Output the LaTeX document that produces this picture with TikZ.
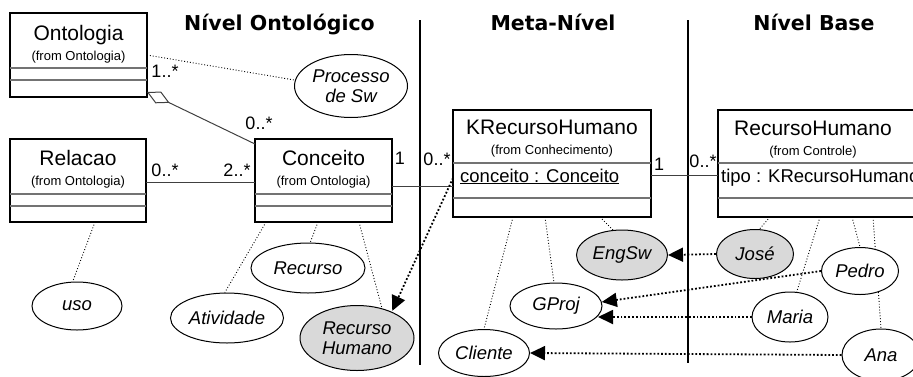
\documentclass[tikz,border=0pt]{standalone}
\usepackage{fontspec}
\setmainfont{Liberation Sans}
\newfontfamily\titlefont{DejaVu Sans}
\usetikzlibrary{arrows.meta,shapes.geometric,calc,backgrounds}
\begin{document}
\begin{tikzpicture}[x=1pt,y=-1pt,
  classbox/.style={draw=black,line width=1.4pt,fill=white,rectangle,inner sep=0pt,outer sep=0pt},
  comp/.style={draw=black!55,line width=1.2pt},
  cname/.style={font=\fontsize{21}{24}\selectfont,anchor=base,inner sep=0pt},
  cfrom/.style={font=\fontsize{13}{15}\selectfont,anchor=base,inner sep=0pt},
  cattr/.style={font=\fontsize{18.5}{21}\selectfont,anchor=base west,inner sep=0pt},
  mult/.style={font=\fontsize{18}{20}\selectfont,inner sep=0pt},
  ttl/.style={font=\titlefont\bfseries\fontsize{20.5}{24}\selectfont,anchor=base,inner sep=0pt},
  obj/.style={ellipse,draw=black,line width=1pt,fill=white,inner sep=0pt,
              font=\fontsize{18.5}{20}\selectfont\itshape,align=center},
  objg/.style={obj,fill=black!15},
  inst/.style={draw=black,line width=0.9pt,dotted},
  assoc/.style={draw=black!75,line width=1pt},
  instarrow/.style={draw=black,line width=1.8pt,dotted,-{Triangle[length=15pt,width=14pt]}},
  sep/.style={draw=black,line width=2pt}
]
\useasboundingbox (0,0) rectangle (913,376);
\clip (0,0) rectangle (913,376);

% titles
\node[ttl] (t1) at (279.5,30) {Nível Ontológico};
\node[ttl] (t2) at (553,30) {Meta-Nível};
\node[ttl] (t3) at (814,30) {Nível Base};

% separators
\coordinate (s1a) at (420,20); \coordinate (s1b) at (420,365);
\coordinate (s2a) at (688,20); \coordinate (s2b) at (688,363);
\draw[sep] (s1a) -- (s1b);
\draw[sep] (s2a) -- (s2b);

% class boxes
\node[classbox,minimum width=137pt,minimum height=84pt] (onto) at (78.5,55) {};
\draw[comp] ([yshift=-55pt]onto.north west) -- ([yshift=-55pt]onto.north east);
\draw[comp] ([yshift=-67pt]onto.north west) -- ([yshift=-67pt]onto.north east);
\node[cname] (onton) at (78.5,40) {Ontologia};
\node[cfrom] (ontof) at (78.5,60) {(from Ontologia)};

\node[classbox,minimum width=136pt,minimum height=83pt] (rel) at (78,180.5) {};
\draw[comp] ([yshift=-55pt]rel.north west) -- ([yshift=-55pt]rel.north east);
\draw[comp] ([yshift=-67pt]rel.north west) -- ([yshift=-67pt]rel.north east);
\node[cname] (reln) at (78,165) {Relacao};
\node[cfrom] (relf) at (78,185) {(from Ontologia)};

\node[classbox,minimum width=137pt,minimum height=83pt] (conc) at (323.5,180.5) {};
\draw[comp] ([yshift=-55pt]conc.north west) -- ([yshift=-55pt]conc.north east);
\draw[comp] ([yshift=-67pt]conc.north west) -- ([yshift=-67pt]conc.north east);
\node[cname] (concn) at (323.5,165) {Conceito};
\node[cfrom] (concf) at (323.5,185) {(from Ontologia)};

\node[classbox,minimum width=198pt,minimum height=107pt] (krh) at (552,163.5) {};
\draw[comp] ([yshift=-53pt]krh.north west) -- ([yshift=-53pt]krh.north east);
\draw[comp] ([yshift=-88pt]krh.north west) -- ([yshift=-88pt]krh.north east);
\node[cname] (krhn) at (552,134) {KRecursoHumano};
\node[cfrom] (krhf) at (552,154) {(from Conhecimento)};
\node[cattr] (krha) at (460,182) {\underline{conceito : Conceito}};

\node[classbox,minimum width=217pt,minimum height=107pt] (rh) at (826.5,163.5) {};
\draw[comp] ([yshift=-53pt]rh.north west) -- ([yshift=-53pt]rh.north east);
\draw[comp] ([yshift=-88pt]rh.north west) -- ([yshift=-88pt]rh.north east);
\node[cname] (rhn) at (813,135) {RecursoHumano};
\node[cfrom] (rhf) at (813,155) {(from Controle)};
\node[cattr] (rha) at (721,182) {tipo : KRecursoHumano};

% objects
\node[obj,minimum width=113pt,minimum height=63pt] (proc) at (351,86) {Processo\\de Sw};
\node[obj,minimum width=90pt,minimum height=48pt] (uso) at (77,306) {uso};
\node[obj,minimum width=113pt,minimum height=50pt] (ativ) at (227,318) {Atividade};
\node[obj,minimum width=114pt,minimum height=50pt] (recurso) at (308,268) {Recurso};
\node[objg,minimum width=114pt,minimum height=65pt] (rhum) at (357,338) {Recurso\\Humano};
\node[objg,minimum width=91pt,minimum height=50pt] (engsw) at (622,255) {EngSw};
\node[obj,minimum width=92pt,minimum height=46pt] (gproj) at (556,306) {GProj};
\node[obj,minimum width=91pt,minimum height=47pt] (cliente) at (484,353) {Cliente};
\node[objg,minimum width=77pt,minimum height=49pt] (jose) at (755,254) {José};
\node[obj,minimum width=77pt,minimum height=47pt] (pedro) at (860,271) {Pedro};
\node[obj,minimum width=76pt,minimum height=50pt] (maria) at (790,317) {Maria};
\node[obj,minimum width=78pt,minimum height=52pt] (ana) at (881,355) {Ana};

% associations
\coordinate (aggs) at (147,92);
\draw[assoc,{Diamond[open,length=25pt,width=13pt,fill=white]}-] (aggs) -- ([yshift=-5pt]conc.north west);
\draw[assoc] ([yshift=-1.5pt]rel.east) -- ([yshift=-1.5pt]conc.east -| conc.west);
\draw[assoc] ([yshift=-5.5pt]conc.east) -- ([yshift=-5.5pt]conc.east -| krh.west);
\draw[assoc] ([yshift=-11.5pt]krh.east) -- ([yshift=-11.5pt]krh.east -| rh.west);

\node[mult] (m1) at (165,71) {1..*};
\node[mult] (m2) at (259,123) {0..*};
\node[mult] (m3) at (165,170) {0..*};
\node[mult] (m4) at (237,170) {2..*};
\node[mult] (m5) at (400,158) {1};
\node[mult] (m6) at (437,159) {0..*};
\node[mult] (m7) at (659,164) {1};
\node[mult] (m8) at (703,161) {0..*};

\coordinate (gpin) at (598,317);
\begin{pgfonlayer}{background}
\draw[inst] (onto.east) -- (proc.174);
\draw[inst] ([xshift=85pt]rel.south west) -- (uso.100);
\draw[inst] ([xshift=11pt]conc.south west) -- (ativ.95);
\draw[inst] ([xshift=63pt]conc.south west) -- (recurso.85);
\draw[inst] ([xshift=104pt]conc.south west) -- (rhum.50);
\draw[inst] ([xshift=60pt]krh.south west) -- (cliente.north);
\draw[inst] ([xshift=92pt]krh.south west) -- (gproj.95);
\draw[inst] ([xshift=147pt]krh.south west) -- (engsw.110);
\draw[inst] ([xshift=52pt]rh.south west) -- (jose.80);
\draw[inst] ([xshift=102pt]rh.south west) -- (maria.75);
\draw[inst] ([xshift=134pt]rh.south west) -- (pedro.north);
\draw[inst] ([xshift=155pt]rh.south west) -- (ana.north);
\end{pgfonlayer}

% instance-of arrows
\draw[instarrow,shorten >=1pt] ([yshift=-68pt]krh.north west) -- (rhum.37);
\draw[instarrow] (jose.west) -- (engsw.east);
\draw[instarrow] (pedro.west) -- (gproj.5);
\draw[instarrow] (maria.west) -- (gpin);
\draw[instarrow] (ana.west) -- (cliente.east);
\end{tikzpicture}
\end{document}
